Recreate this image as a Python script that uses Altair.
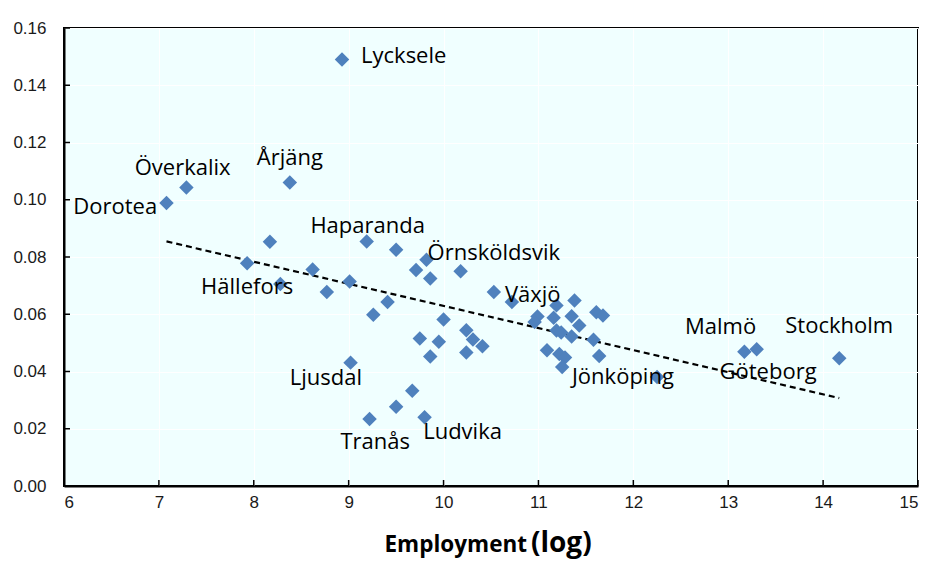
import altair as alt
import pandas as pd

# Data points: log employment (x) vs. share (y)
x_vals = [8.93, 8.38, 7.29, 7.08, 8.17, 7.93, 8.28, 8.62, 8.77, 9.01,
          9.19, 9.50, 9.26, 9.41, 9.71, 9.82, 9.86, 10.18, 10.00, 9.75,
          9.95, 9.86, 10.24, 10.31, 10.41, 10.24, 10.53, 10.72, 9.02, 9.67,
          9.50, 9.22, 9.80, 10.99, 10.96, 11.16, 11.19, 11.38, 11.35, 11.43,
          11.19, 11.24, 11.35, 11.61, 11.68, 11.58, 11.09, 11.22, 11.28, 11.25,
          11.64, 12.25, 13.17, 13.30, 14.17]
y_vals = [0.1490, 0.1060, 0.1043, 0.0989, 0.0853, 0.0778, 0.0706, 0.0756, 0.0678, 0.0714,
          0.0854, 0.0825, 0.0598, 0.0643, 0.0755, 0.0790, 0.0725, 0.0750, 0.0582, 0.0515,
          0.0504, 0.0452, 0.0544, 0.0512, 0.0488, 0.0466, 0.0678, 0.0643, 0.0431, 0.0333,
          0.0277, 0.0234, 0.0240, 0.0592, 0.0573, 0.0588, 0.0631, 0.0648, 0.0593, 0.0561,
          0.0543, 0.0536, 0.0522, 0.0607, 0.0596, 0.0511, 0.0474, 0.0461, 0.0449, 0.0416,
          0.0454, 0.0381, 0.0469, 0.0478, 0.0446]

# Annotations (text and their anchor positions in data units)
label_text = ["Lycksele", "Årjäng", "Överkalix", "Dorotea", "Haparanda", "Örnsköldsvik",
              "Hällefors", "Växjö", "Ljusdal", "Jönköping", "Malmö", "Stockholm",
              "Göteborg", "Tranås", "Ludvika"]
label_x = [9.58, 8.38, 7.25, 6.54, 9.20, 10.53, 7.93, 10.94, 8.76, 11.89, 12.92, 14.17,
           13.42, 9.28, 10.20]
label_y = [0.1478, 0.1122, 0.1085, 0.0950, 0.0883, 0.0790, 0.0671, 0.0644, 0.0353, 0.0356,
           0.0531, 0.0536, 0.0373, 0.0131, 0.0163]

x_ticks = [6, 7, 8, 9, 10, 11, 12, 13, 14, 15]
y_ticks = [0.0, 0.02, 0.04, 0.06, 0.08, 0.10, 0.12, 0.14, 0.16]
title_main = ["Employment"]
title_log = ["(log)"]

W, H = 854, 458
TICK_FONT = "Liberation Sans Narrow, Arial Narrow, Liberation Sans, Arial"
LABEL_FONT = "Open Sans"

pts = pd.DataFrame({"x": x_vals, "y": y_vals})
labs = pd.DataFrame({"label": label_text, "x": label_x, "y": label_y})

xscale = alt.Scale(domain=[6, 15], nice=False, zero=False)
yscale = alt.Scale(domain=[0, 0.16], nice=False)

xaxis = alt.Axis(values=x_ticks, format="d", title=None, grid=True, gridColor="white",
                 gridWidth=1, ticks=False, domainColor="black", domainWidth=2,
                 labelFont=TICK_FONT, labelFontSize=17, labelColor="#1a1a1a",
                 labelPadding=8)
yaxis = alt.Axis(values=y_ticks, format=".2f", title=None, grid=True, gridColor="white",
                 gridWidth=1, ticks=False, domainColor="black", domainWidth=2,
                 labelFont=TICK_FONT, labelFontSize=17, labelColor="#1a1a1a",
                 labelPadding=18)

base = alt.Chart(pts)

points = base.mark_point(shape="diamond", filled=True, size=210, color="#4f81bd",
                         opacity=1).encode(
    x=alt.X("x:Q", scale=xscale, axis=xaxis),
    y=alt.Y("y:Q", scale=yscale, axis=yaxis),
)

trend = base.transform_regression("x", "y").mark_line(
    color="black", strokeDash=[6, 4], strokeWidth=2.2).encode(
    x=alt.X("x:Q", scale=xscale),
    y=alt.Y("y:Q", scale=yscale),
)

labels = alt.Chart(labs).mark_text(font=LABEL_FONT, fontSize=22, color="black",
                                   align="center", baseline="alphabetic").encode(
    x=alt.X("x:Q", scale=xscale),
    y=alt.Y("y:Q", scale=yscale),
    text="label:N",
)

ytick_marks = alt.Chart(pd.DataFrame({"v": y_ticks})).mark_rule(
    color="black", strokeWidth=1.5).encode(
    y=alt.Y("v:Q", scale=yscale),
    x=alt.value(0), x2=alt.value(6),
)
xtick_marks = alt.Chart(pd.DataFrame({"v": x_ticks})).mark_rule(
    color="black", strokeWidth=1.5).encode(
    x=alt.X("v:Q", scale=xscale),
    y=alt.value(H), y2=alt.value(H - 6),
)

t1 = alt.Chart(pd.DataFrame({"t": title_main})).mark_text(
    font=LABEL_FONT, fontSize=22.5, fontWeight="bold", align="right",
    baseline="alphabetic", color="black").encode(
    text="t:N", x=alt.value(463), y=alt.value(524))
t2 = alt.Chart(pd.DataFrame({"t": title_log})).mark_text(
    font=LABEL_FONT, fontSize=28, fontWeight="bold", align="left",
    baseline="alphabetic", color="black").encode(
    text="t:N", x=alt.value(467), y=alt.value(524))

chart = alt.layer(trend, points, labels, ytick_marks, xtick_marks, t1, t2).properties(
    width=W, height=H,
    autosize=alt.AutoSizeParams(type="none"),
    padding={"left": 56, "top": 20, "right": 3, "bottom": 84},
    background="white",
).configure_view(
    fill="#f0ffff", stroke="black", strokeWidth=2
)

chart.save("out.html", embed_options={"renderer": "svg", "actions": False})
